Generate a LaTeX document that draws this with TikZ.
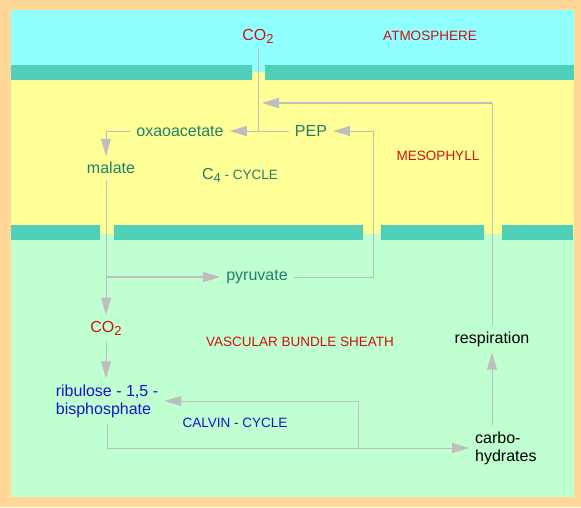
\documentclass[tikz,border=0pt]{standalone}
\usepackage{fontspec}
\setmainfont{Liberation Sans}
\usepackage{tikz}
\usetikzlibrary{arrows.meta,positioning,calc}
\definecolor{framecol}{HTML}{FFD898}
\definecolor{atmocol}{HTML}{90FFFF}
\definecolor{mesocol}{HTML}{FFFF98}
\definecolor{sheathcol}{HTML}{C0FFD0}
\definecolor{wallcol}{HTML}{50D0B8}
\definecolor{redcol}{HTML}{D01010}
\definecolor{c4col}{HTML}{1F7F6C}
\definecolor{calvcol}{HTML}{1414C8}
\definecolor{flowcol}{HTML}{BEBEBE}
\newcommand{\sbs}[1]{\raisebox{-0.35ex}{\fontsize{13}{13}\selectfont #1}}

\begin{document}
\begin{tikzpicture}[x=1pt,y=-1pt,>={Triangle[length=17pt,width=10pt]},
    lbl/.style={inner sep=6pt,font=\fontsize{16}{18}\selectfont},
    c4/.style={lbl,text=c4col},
    calv/.style={lbl,text=calvcol,align=left},
    gas/.style={lbl,text=redcol},
    zone/.style={inner sep=2pt,text=redcol,font=\fontsize{13.5}{15}\selectfont},
    flow/.style={draw=flowcol,line width=1pt},
    flowthick/.style={draw=flowcol,line width=1.8pt}]
  \useasboundingbox (0,0) rectangle (581,507);
  \fill[framecol] (0,0) rectangle (581,507);
  \fill[atmocol] (11,10) rectangle (574,72);
  \fill[mesocol] (11,72) rectangle (574,234);
  \fill[sheathcol] (11,234) rectangle (574,497);
  \foreach \xa/\xb in {11/252,265/574} \fill[wallcol] (\xa,65) rectangle (\xb,80);
  \foreach \xa/\xb in {11/100,114/363,381/484,502/573} \fill[wallcol] (\xa,225) rectangle (\xb,240);
  \node[gas] (co2top) at (258,36) {CO\sbs{2}};
  \node[zone] (atmo) at (430,36) {ATMOSPHERE};
  \node[c4] (oxa) at (180,131) {oxaoacetate};
  \node[c4] (pep) at (311,131) {PEP};
  \node[zone] (meso) at (438,156) {MESOPHYLL};
  \node[c4] (malate) at (111,168) {malate};
  \node[c4] (c4cyc) at (240,175) {C\sbs{4}{\fontsize{13.5}{15}\selectfont{} - CYCLE}};
  \node[c4] (pyr) at (257,277) {pyruvate};
  \node[gas] (co2mid) at (106,328) {CO\sbs{2}};
  \node[zone] (vbs) at (300,342) {VASCULAR BUNDLE SHEATH};
  \node[lbl] (resp) at (492,339) {respiration};
  \node[calv] (ribu) at (107,401) {ribulose - 1,5 -\\bisphosphate};
  \node[zone,text=calvcol] (calvin) at (235,423) {CALVIN - CYCLE};
  \node[lbl,align=left,anchor=west] (carbo) at (469,448) {carbo-\\hydrates};
  \coordinate (ret) at (262,103);
  \draw[flow] (co2top.south) -- (co2top.south |- pep.west);
  \draw[flow,->] (pep.west) -- (oxa.east);
  \draw[flow] (resp.north) -- (resp.north |- ret);
  \draw[flowthick,->] (resp.north |- ret) -- (ret);
  \draw[flow,->] (pyr.east) -| (pep.east -| 373,0) -- (pep.east);
  \draw[flow,->] (oxa.west) -| (malate.north -| co2mid.north);
  \draw[flow,->] (malate.south -| co2mid.north) -- (co2mid.north);
  \draw[flowthick,->] (co2mid.north |- pyr.west) -- (pyr.west);
  \draw[flow,->] (co2mid.south) -- (co2mid.south |- ribu.north);
  \draw[flow,->] (ribu.south) |- (carbo.west);
  \draw[flow,->] (carbo.west -| 358,0) |- (ribu.east);
  \draw[flow,->] (carbo.north -| resp.south) -- (resp.south);
\end{tikzpicture}
\end{document}
